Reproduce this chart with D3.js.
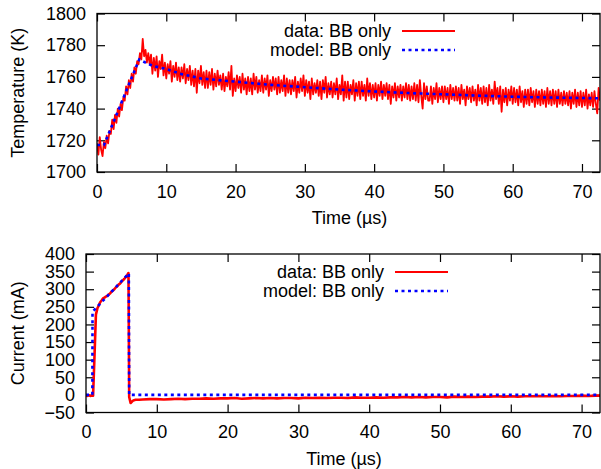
<!DOCTYPE html>
<html>
<head>
<meta charset="utf-8">
<script src="https://cdn.jsdelivr.net/npm/d3@7"></script>
<style>
  body { margin: 0; background: #fff; }
  svg text { font-family: "Liberation Sans", Arial, sans-serif; fill: #000; }
</style>
</head>
<body>
<svg width="601" height="469"></svg>
<script>
// temperature data, sampled every 0.2 us from t = 0
var tempStep = 0.2;
var tempData = [
  1718, 1711, 1722, 1714, 1710, 1719, 1715, 1723, 1718, 1726,
  1724, 1733, 1727, 1736, 1731, 1740, 1735, 1743, 1739, 1747,
  1745, 1754, 1749, 1758, 1753, 1762, 1757, 1766, 1762, 1770,
  1768, 1775, 1771, 1784, 1773, 1777, 1769, 1775, 1768, 1774,
  1762, 1772, 1764, 1773, 1760, 1770, 1765, 1774, 1761, 1769,
  1759, 1768, 1762, 1770, 1757, 1767, 1760, 1769, 1758, 1766,
  1757, 1766, 1759, 1768, 1756, 1765, 1758, 1767, 1755, 1764,
  1754, 1765, 1750, 1764, 1756, 1767, 1755, 1763, 1753, 1764,
  1753, 1763, 1755, 1765, 1752, 1762, 1754, 1764, 1755, 1761,
  1752, 1762, 1751, 1760, 1754, 1763, 1752, 1767, 1748, 1759,
  1751, 1761, 1753, 1760, 1750, 1762, 1752, 1759, 1749, 1760,
  1751, 1759, 1749, 1762, 1752, 1760, 1750, 1758, 1751, 1761,
  1750, 1759, 1752, 1761, 1748, 1758, 1751, 1760, 1752, 1759,
  1749, 1760, 1750, 1758, 1751, 1761, 1748, 1759, 1750, 1758,
  1749, 1758, 1751, 1760, 1747, 1757, 1750, 1759, 1751, 1761,
  1748, 1758, 1750, 1757, 1746, 1759, 1749, 1756, 1750, 1758,
  1748, 1757, 1746, 1758, 1750, 1760, 1747, 1756, 1749, 1757,
  1747, 1756, 1749, 1759, 1746, 1755, 1749, 1761, 1745, 1757,
  1747, 1757, 1746, 1755, 1749, 1758, 1745, 1756, 1748, 1757,
  1746, 1757, 1748, 1755, 1745, 1759, 1748, 1756, 1746, 1755,
  1747, 1756, 1745, 1755, 1748, 1757, 1746, 1755, 1748, 1756,
  1746, 1755, 1743, 1754, 1747, 1756, 1745, 1754, 1747, 1755,
  1745, 1754, 1747, 1756, 1746, 1755, 1745, 1754, 1746, 1756,
  1745, 1755, 1744, 1758, 1748, 1740, 1756, 1746, 1754, 1745,
  1745, 1754, 1743, 1753, 1746, 1756, 1744, 1753, 1746, 1754,
  1744, 1754, 1746, 1753, 1743, 1755, 1746, 1753, 1745, 1754,
  1745, 1753, 1743, 1755, 1746, 1752, 1742, 1754, 1746, 1753,
  1744, 1754, 1745, 1752, 1742, 1755, 1745, 1753, 1743, 1754,
  1744, 1753, 1742, 1755, 1745, 1752, 1743, 1757, 1746, 1753,
  1743, 1754, 1738, 1752, 1744, 1753, 1742, 1752, 1745, 1754,
  1743, 1753, 1744, 1752, 1742, 1754, 1744, 1751, 1741, 1752,
  1743, 1752, 1742, 1753, 1744, 1751, 1741, 1752, 1743, 1751,
  1742, 1752, 1743, 1751, 1741, 1753, 1743, 1751, 1742, 1752,
  1743, 1751, 1741, 1752, 1743, 1750, 1742, 1751, 1743, 1750,
  1742, 1751, 1740, 1750, 1743, 1752, 1741, 1750, 1742, 1751,
  1741, 1750, 1742, 1752, 1740, 1749, 1742, 1750, 1741, 1751,
  1743, 1737, 1753, 1745
];

// model temperature
var tempModelT = [0, 1, 6.1, 7, 8, 10, 12, 15, 20, 25, 30, 35, 40, 45, 50, 55, 60, 65, 70, 72.6];
var tempModelV = [1717, 1717, 1771, 1769, 1767, 1765, 1762, 1759, 1757, 1755, 1753.5, 1752, 1750.8, 1749.8, 1749, 1748.2, 1747.5, 1747, 1746.7, 1746.5];

// current data
var curT = [0, 0.2, 0.4, 0.6, 0.8, 1.0, 1.2, 1.4, 1.6, 1.8, 2.0, 2.2, 2.4, 2.6, 2.8, 3.0, 3.2, 3.4, 3.6, 3.8,
  4.0, 4.2, 4.4, 4.6, 4.8, 5.0, 5.2, 5.4, 5.6, 5.8, 6.0, 6.1, 6.3, 6.6, 6.8, 7.0, 7.5,
  8, 9, 10, 11, 12, 13, 14, 15, 16, 17, 18, 19, 20, 21, 22, 23, 24, 25, 26, 27, 28, 29, 30,
  31, 32, 33, 34, 35, 36, 37, 38, 39, 40, 41, 42, 43, 44, 45, 46, 47, 48, 49, 50,
  51, 52, 53, 54, 55, 56, 57, 58, 59, 60, 61, 62, 63, 64, 65, 66, 67, 68, 69, 70, 71, 72, 72.6];
var curV = [-2, -3, -1, -3, -2, -2, 110, 228, 245, 254, 263, 268, 274, 276, 279, 281, 285, 288, 293, 296,
  300, 305, 308, 313, 316, 321, 325, 329, 334, 339, 346, -6, -23, -17, -15, -14, -14,
  -13, -12, -12, -13, -12, -11, -12, -11, -11, -10, -11, -10, -10, -9, -11, -10, -9, -10, -9, -10, -9, -9, -10,
  -8, -9, -8, -9, -8, -8, -9, -7, -8, -8, -7, -8, -7, -7, -6, -7, -6, -7, -6, -6,
  -7, -5, -6, -5, -6, -5, -5, -4, -5, -4, -5, -4, -4, -3, -4, -3, -4, -3, -3, -2, -3, -2, -2];

// model current
var curModelT = [0, 0.9, 0.92, 6.05, 6.1, 72.6];
var curModelV = [0, 0, 236, 345, 0, 0];

var xTicks = [0, 10, 20, 30, 40, 50, 60, 70];
var tempTicks = [1700, 1720, 1740, 1760, 1780, 1800];
var curTicks = [-50, 0, 50, 100, 150, 200, 250, 300, 350, 400];
var legendNames = ["data: BB only", "model: BB only"];

var svg = d3.select("svg");

function panel(opt) {
  var x = d3.scaleLinear().domain([0, 72.6]).range([opt.left, 600]);
  var y = d3.scaleLinear().domain(opt.yDomain).range([opt.bottom, opt.top]);
  var g = svg.append("g");

  var clipId = "clip" + opt.id;
  g.append("clipPath").attr("id", clipId)
    .append("rect")
      .attr("x", opt.left).attr("y", opt.top)
      .attr("width", 600 - opt.left).attr("height", opt.bottom - opt.top);

  g.append("g")
      .attr("transform", "translate(0," + opt.bottom + ")")
      .call(d3.axisBottom(x).tickValues(xTicks).tickSizeInner(-8).tickSizeOuter(0).tickPadding(13).tickFormat(d3.format("d")))
      .call(styleAxis);
  g.append("g")
      .attr("transform", "translate(0," + opt.top + ")")
      .call(d3.axisTop(x).tickValues(xTicks).tickSizeInner(-8).tickSizeOuter(0).tickFormat(""))
      .call(styleAxis);
  g.append("g")
      .attr("transform", "translate(" + opt.left + ",0)")
      .call(d3.axisLeft(y).tickValues(opt.yTicks).tickSizeInner(-8).tickSizeOuter(0).tickPadding(11).tickFormat(d3.format("d")))
      .call(styleAxis);
  g.append("g")
      .attr("transform", "translate(600,0)")
      .call(d3.axisRight(y).tickValues(opt.yTicks).tickSizeInner(-8).tickSizeOuter(0).tickFormat(""))
      .call(styleAxis);

  var line = d3.line()
      .x(function(d) { return x(d[0]); })
      .y(function(d) { return y(d[1]); });

  var plot = g.append("g").attr("clip-path", "url(#" + clipId + ")");
  plot.append("path")
      .datum(opt.data)
      .attr("fill", "none")
      .attr("stroke", "#ff0000")
      .attr("stroke-width", opt.dataWidth)
      .attr("stroke-linejoin", "round")
      .attr("d", line);
  plot.append("path")
      .datum(opt.model)
      .attr("fill", "none")
      .attr("stroke", "#0000ff")
      .attr("stroke-width", 2.6)
      .attr("stroke-dasharray", "3,3.5")
      .attr("d", line);

  g.append("rect")
      .attr("x", opt.left).attr("y", opt.top)
      .attr("width", 600 - opt.left).attr("height", opt.bottom - opt.top)
      .attr("fill", "none").attr("stroke", "#000").attr("stroke-width", 1.3);

  // legend
  var lg = g.append("g");
  legendNames.forEach(function(name, i) {
    var ly = opt.legendY + i * 19;
    lg.append("text")
        .attr("x", opt.legendX).attr("y", ly).attr("dy", "0.35em")
        .attr("text-anchor", "end").attr("font-size", 18)
        .text(name);
    lg.append("line")
        .attr("x1", opt.legendX + 11).attr("x2", opt.legendX + 64)
        .attr("y1", ly).attr("y2", ly)
        .attr("stroke", i === 0 ? "#ff0000" : "#0000ff")
        .attr("stroke-width", i === 0 ? 2 : 2.6)
        .attr("stroke-dasharray", i === 0 ? null : "3,3.5");
  });

  g.append("text")
      .attr("x", (opt.left + 600) / 2 + 1).attr("y", opt.bottom + 52)
      .attr("text-anchor", "middle").attr("font-size", 18)
      .text("Time (\u00b5s)");
  g.append("text")
      .attr("transform", "translate(24," + (opt.top + opt.bottom) / 2 + ") rotate(-90)")
      .attr("text-anchor", "middle").attr("font-size", 18)
      .text(opt.yLabel);
}

function styleAxis(sel) {
  sel.select(".domain").remove();
  sel.selectAll(".tick line").attr("stroke", "#000").attr("stroke-width", 1.2);
  sel.selectAll(".tick text")
      .attr("font-family", "Liberation Sans, Arial, sans-serif")
      .attr("font-size", 18).attr("fill", "#000");
}

panel({
  id: 1, left: 97, top: 13.5, bottom: 172,
  yDomain: [1700, 1800], yTicks: tempTicks,
  data: tempData.map(function(v, i) { return [i * tempStep, v]; }),
  model: tempModelT.map(function(t, i) { return [t, tempModelV[i]]; }),
  dataWidth: 1.8,
  legendX: 391, legendY: 31,
  yLabel: "Temperature (K)"
});

panel({
  id: 2, left: 86, top: 254, bottom: 412.5,
  yDomain: [-50, 400], yTicks: curTicks,
  data: curT.map(function(t, i) { return [t, curV[i]]; }),
  model: curModelT.map(function(t, i) { return [t, curModelV[i]]; }),
  dataWidth: 2.6,
  legendX: 384, legendY: 272,
  yLabel: "Current (mA)"
});
</script>
</body>
</html>
